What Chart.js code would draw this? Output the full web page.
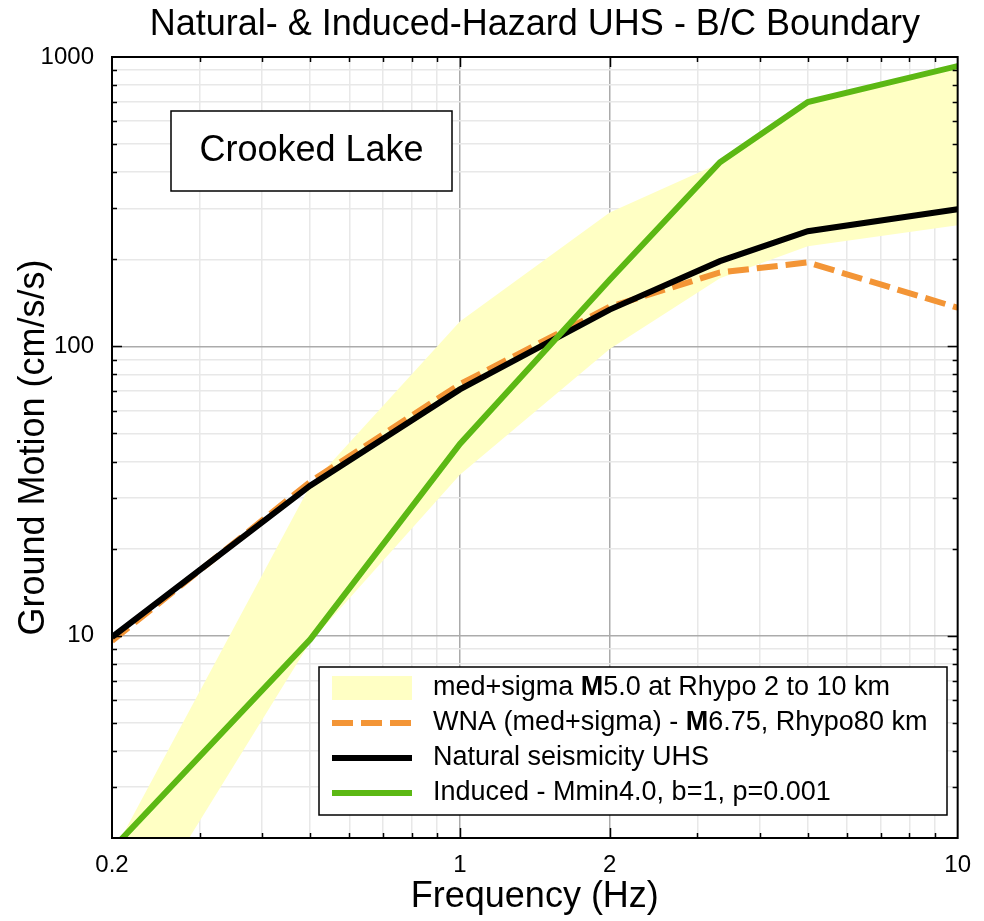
<!DOCTYPE html>
<html>
<head>
<meta charset="utf-8">
<script src="https://cdn.jsdelivr.net/npm/chart.js@4.4.1/dist/chart.umd.min.js"></script>
<style>
html,body{margin:0;padding:0;background:#ffffff;}
canvas{display:block;}
</style>
</head>
<body>
<canvas id="chart" width="984" height="921"></canvas>
<script>
// ---- data ----
const frequencies   = [0.2, 0.5, 1, 2, 3.33, 5, 10];
const bandUpper     = [1.75, 33, 122, 290, 430, 690, 910];
const bandLower     = [0.74, 9.5, 36, 98, 172, 222, 262];
const wnaValues     = [9.6, 34, 74, 137, 180, 195, 136];
const naturalValues = [9.9, 33, 71, 134, 197, 250, 298];
const inducedValues = [1.83, 9.7, 46, 170, 433, 699, 930];

const xTickValues = [0.2, 0.3, 0.4, 0.5, 0.6, 0.7, 0.8, 0.9, 1, 2, 3, 4, 5, 6, 7, 8, 9, 10];
const xTickLabels = ['0.2', '1', '2', '10'];
const xMajorGrid  = [1, 2];
const yTickValues = [2, 3, 4, 5, 6, 7, 8, 9, 10, 20, 30, 40, 50, 60, 70, 80, 90, 100, 200, 300, 400, 500, 600, 700, 800, 900, 1000];
const yTickLabels = ['10', '100', '1000'];
const yMajorGrid  = [10, 100];

const titleText  = 'Natural- & Induced-Hazard UHS - B/C Boundary';
const xTitleText = 'Frequency (Hz)';
const yTitleText = 'Ground Motion (cm/s/s)';
const siteName   = 'Crooked Lake';
// legend labels: parts with bold flag
const legendBand    = [['med+sigma ', false], ['M', true], ['5.0 at Rhypo 2 to 10 km', false]];
const legendWNA     = [['WNA (med+sigma) - ', false], ['M', true], ['6.75, Rhypo80 km', false]];
const legendNatural = [['Natural seismicity UHS', false]];
const legendInduced = [['Induced - Mmin4.0, b=1, p=0.001', false]];

const FONT = "'Liberation Sans', Arial, Helvetica, sans-serif";
const YELLOW = '#FFFFC4';
const ORANGE = '#F39536';
const GREEN  = '#5CB814';
const BLACK  = '#000000';

const pts = (vals) => frequencies.map((f, i) => ({x: f, y: vals[i]}));

function fmt(v){ return String(Math.round(v * 100) / 100); }

// ---- plugin: box, inner ticks, annotation, legend ----
const decorPlugin = {
  id: 'decor',
  afterDatasetsDraw(chart) {
    const ctx = chart.ctx;
    const ca = chart.chartArea;
    const xs = chart.scales.x, ys = chart.scales.y;
    ctx.save();
    ctx.strokeStyle = '#000';
    ctx.lineWidth = 1.5;
    // inner ticks
    ctx.beginPath();
    xTickValues.forEach(v => {
      if (v <= xs.min || v >= xs.max) return;
      const px = Math.round(xs.getPixelForValue(v)) + 0.5;
      const len = xMajorGrid.includes(v) ? 10 : 5;
      ctx.moveTo(px, ca.bottom); ctx.lineTo(px, ca.bottom - len);
      ctx.moveTo(px, ca.top); ctx.lineTo(px, ca.top + len);
    });
    yTickValues.forEach(v => {
      if (v <= ys.min || v >= ys.max) return;
      const py = Math.round(ys.getPixelForValue(v)) + 0.5;
      const len = yMajorGrid.includes(v) ? 10 : 5;
      ctx.moveTo(ca.left, py); ctx.lineTo(ca.left + len, py);
      ctx.moveTo(ca.right, py); ctx.lineTo(ca.right - len, py);
    });
    ctx.stroke();
    // axes box
    ctx.lineWidth = 2;
    ctx.strokeRect(ca.left, ca.top, ca.right - ca.left, ca.bottom - ca.top);

    // site annotation box
    const bx = ca.left + 59, by = ca.top + 54, bw = 281, bh = 80;
    ctx.fillStyle = '#fff';
    ctx.fillRect(bx, by, bw, bh);
    ctx.lineWidth = 1.5;
    ctx.strokeRect(bx, by, bw, bh);
    ctx.fillStyle = '#000';
    ctx.font = '36px ' + FONT;
    ctx.textAlign = 'center';
    ctx.textBaseline = 'middle';
    ctx.fillText(siteName, bx + bw / 2, by + bh / 2);

    // legend
    const lx = ca.left + 207, ly = ca.top + 610, lw = 628, lh = 148;
    ctx.fillStyle = '#fff';
    ctx.fillRect(lx, ly, lw, lh);
    ctx.strokeStyle = '#000';
    ctx.lineWidth = 1.5;
    ctx.strokeRect(lx, ly, lw, lh);
    const rows = [
      {parts: legendBand, kind: 'band'},
      {parts: legendWNA, kind: 'line', color: ORANGE, dash: [21, 8]},
      {parts: legendNatural, kind: 'line', color: BLACK, dash: []},
      {parts: legendInduced, kind: 'line', color: GREEN, dash: []}
    ];
    const sx0 = lx + 13, sx1 = lx + 93, tx = lx + 114;
    rows.forEach((r, i) => {
      const cy = ly + 21 + i * 35;
      if (r.kind === 'band') {
        ctx.fillStyle = YELLOW;
        ctx.fillRect(sx0, cy - 12, sx1 - sx0, 24);
      } else {
        ctx.beginPath();
        ctx.setLineDash(r.dash);
        ctx.strokeStyle = r.color;
        ctx.lineWidth = 6;
        ctx.moveTo(sx0, cy); ctx.lineTo(sx1, cy);
        ctx.stroke();
        ctx.setLineDash([]);
      }
      let x = tx;
      ctx.textAlign = 'left';
      ctx.textBaseline = 'middle';
      ctx.fillStyle = '#000';
      r.parts.forEach(([t, bold]) => {
        ctx.font = (bold ? 'bold ' : '') + '27px ' + FONT;
        ctx.fillText(t, x, cy);
        x += ctx.measureText(t).width;
      });
    });
    ctx.restore();
  }
};

const chart = new Chart(document.getElementById('chart'), {
  type: 'line',
  data: {
    datasets: [
      {label: 'band upper', data: pts(bandUpper), borderWidth: 0, pointRadius: 0,
       backgroundColor: YELLOW, borderColor: YELLOW, fill: 1, order: 10, clip: 0},
      {label: 'med+sigma M5.0 at Rhypo 2 to 10 km', data: pts(bandLower), borderWidth: 0, pointRadius: 0,
       backgroundColor: YELLOW, borderColor: YELLOW, fill: false, order: 11, clip: 0},
      {label: 'WNA (med+sigma) - M6.75, Rhypo80 km', data: pts(wnaValues), borderColor: ORANGE,
       borderWidth: 6, borderDash: [21, 8], pointRadius: 0, fill: false, order: 3, clip: 0},
      {label: 'Natural seismicity UHS', data: pts(naturalValues), borderColor: BLACK,
       borderWidth: 6, pointRadius: 0, fill: false, order: 2, clip: 0},
      {label: 'Induced - Mmin4.0, b=1, p=0.001', data: pts(inducedValues), borderColor: GREEN,
       borderWidth: 6, pointRadius: 0, fill: false, order: 1, clip: 0}
    ]
  },
  options: {
    responsive: false,
    animation: false,
    events: [],
    layout: {padding: {left: 0, right: 24, top: 0, bottom: 0}},
    plugins: {
      legend: {display: false},
      tooltip: {enabled: false},
      title: {
        display: true,
        fullSize: false,
        text: titleText,
        color: '#000',
        font: {family: FONT, size: 36, weight: 'normal', lineHeight: 1.2},
        padding: {top: 3, bottom: 10.8}
      }
    },
    scales: {
      x: {
        type: 'logarithmic',
        min: 0.2, max: 10,
        afterBuildTicks: (s) => { s.ticks = xTickValues.map(v => ({value: v})); },
        afterFit: (s) => { s.height = 83; },
        ticks: {
          autoSkip: false, maxRotation: 0, minRotation: 0, padding: 13,
          color: '#000',
          font: {family: FONT, size: 24, lineHeight: 1.2},
          callback: (v) => { const t = fmt(v); return xTickLabels.includes(t) ? t : ''; }
        },
        grid: {
          drawTicks: false,
          lineWidth: 1.5,
          color: (c) => (c.tick && xMajorGrid.includes(c.tick.value)) ? '#ABABAB' : '#E8E8E8'
        },
        border: {display: false},
        title: {
          display: true, text: xTitleText, color: '#000',
          font: {family: FONT, size: 36, lineHeight: 1.2},
          padding: {top: 0, bottom: 2}
        }
      },
      y: {
        type: 'logarithmic',
        min: 2, max: 1000,
        afterBuildTicks: (s) => { s.ticks = yTickValues.map(v => ({value: v})); },
        afterFit: (s) => { s.width = 112; },
        ticks: {
          autoSkip: false, padding: 18,
          color: '#000',
          font: {family: FONT, size: 24, lineHeight: 1.2},
          callback: (v) => { const t = fmt(v); return yTickLabels.includes(t) ? t : ''; }
        },
        grid: {
          drawTicks: false,
          lineWidth: 1.5,
          color: (c) => (c.tick && yMajorGrid.includes(c.tick.value)) ? '#ABABAB' : '#E8E8E8'
        },
        border: {display: false},
        title: {
          display: true, text: yTitleText, color: '#000',
          font: {family: FONT, size: 36, lineHeight: 1.2},
          padding: {top: 12, bottom: 0}
        }
      }
    }
  },
  plugins: [decorPlugin]
});
</script>
</body>
</html>
